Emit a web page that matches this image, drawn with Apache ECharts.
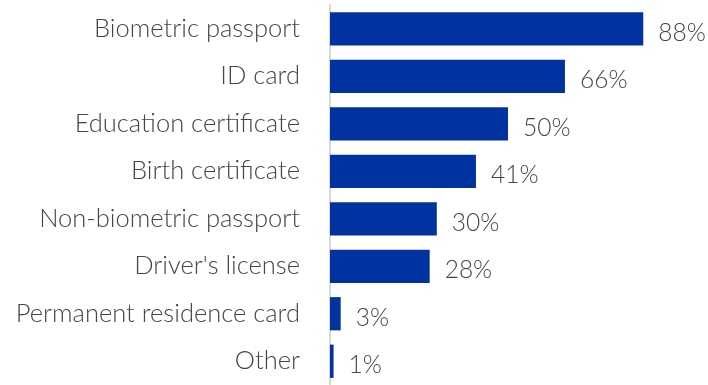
<!DOCTYPE html>
<html>
<head>
<meta charset="utf-8">
<script src="https://cdn.jsdelivr.net/npm/echarts@6/dist/echarts.min.js"></script>
<style>
  html, body { margin: 0; padding: 0; background: #ffffff; }
  #chart { width: 708px; height: 385px; }
</style>
</head>
<body>
<div id="chart"></div>
<script>
// Documents held, share of respondents (%)
const categories = [
  'Biometric passport',
  'ID card',
  'Education certificate',
  'Birth certificate',
  'Non-biometric passport',
  "Driver's license",
  'Permanent residence card',
  'Other'
];
const values = [88, 66, 50, 41, 30, 28, 3, 1];

const FONT = 'Lato, "Open Sans", sans-serif';
const chart = echarts.init(document.getElementById('chart'));

chart.setOption({
  animation: false,
  grid: { left: 330, right: 22, top: 5, height: 389, containLabel: false },
  xAxis: {
    type: 'value',
    min: 0,
    max: 100,
    show: false
  },
  yAxis: {
    type: 'category',
    data: categories,
    inverse: true,
    axisLine: { show: true, lineStyle: { color: '#d9d9d9', width: 2 } },
    axisTick: { show: false },
    axisLabel: {
      margin: 30,
      color: '#454545',
      fontFamily: FONT,
      fontWeight: 300,
      fontSize: 25.5
    }
  },
  series: [{
    type: 'bar',
    data: values,
    barWidth: '70%',
    itemStyle: { color: '#0033A0' },
    label: {
      show: true,
      position: 'right',
      distance: 15,
      offset: [0, 4],
      formatter: p => p.value + '%',
      color: '#454545',
      fontFamily: FONT,
      fontWeight: 300,
      fontSize: 24.5
    }
  }]
});
</script>
</body>
</html>
